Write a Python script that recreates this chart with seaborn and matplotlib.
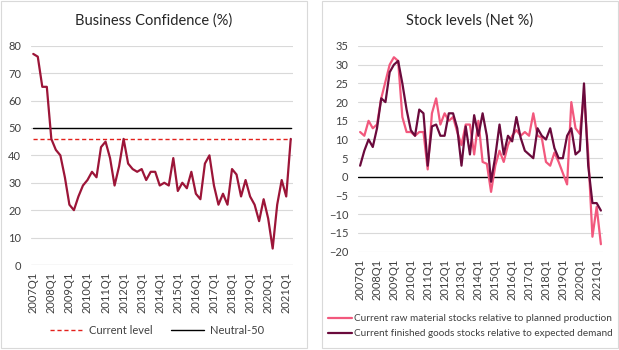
import matplotlib
matplotlib.use("Agg")
import matplotlib.pyplot as plt
import seaborn as sns
from matplotlib.patches import Rectangle

# -----------------------------
# DATA
# -----------------------------
quarters = [f"{y}Q{q}" for y in range(2007, 2022) for q in range(1, 5)][:58]  # 2007Q1 .. 2021Q2

business_confidence = [
    77, 76, 65, 65, 46, 42, 40, 32, 22, 20, 25, 29, 31, 34, 32, 43,
    45, 39, 29, 36, 46, 37, 35, 34, 35, 31, 34, 34, 29, 30, 29, 39,
    27, 30, 28, 34, 26, 24, 37, 40, 29, 22, 26, 22, 35, 33, 25, 31,
    25, 22, 16, 24, 17, 6, 22, 31, 25, 46,
]
current_level = [46] * len(quarters)
neutral_level = [50] * len(quarters)

raw_material = [
    12, 11, 15, 13, 14, 21, 25.5, 30, 32, 31, 16, 12, 12, 11, 12, 12,
    2, 17, 21, 14, 17, 15, 16, 12, 8.5, 14, 14, 6, 15, 4, 3.5, -4,
    3, 7, 4, 8.5, 11, 12.5, 11, 12, 11, 17, 11, 10.5, 4, 3, 6.5, 4,
    1, -2, 20, 13, 11.5, 22, 6, -16, -8, -18,
]
finished_goods = [
    3, 7, 10, 8, 13, 21, 20, 28, 30, 31, 25, 18, 12.5, 11, 18, 17,
    3, 13.5, 14, 11, 11, 17, 17, 13, 3, 13.5, 6, 16.5, 11, 17, 11, -1.3,
    5.5, 14, 6, 11, 9.5, 16, 10.5, 7, 6, 5, 13, 11, 10, 13, 7.7, 5,
    5, 11, 13, 6, 7, 25, 3, -7, -7, -9,
]

left_ticks = list(range(0, 81, 10))
right_ticks = list(range(-20, 36, 5))

# -----------------------------
# STYLE
# -----------------------------
sns.set_theme(style="white")
plt.rcParams['font.family'] = ['Lato', 'DejaVu Sans']
text_col = "#404040"
grid_col = "#D9D9D9"

W, H = 619, 350
fig = plt.figure(figsize=(W / 100, H / 100), dpi=100)


def box(x0, y0, x1, y1):
    """axes rectangle from pixel coordinates (top-left origin)"""
    return [x0 / W, 1 - y1 / H, (x1 - x0) / W, (y1 - y0) / H]


x = list(range(len(quarters)))

# chart area borders
for (x0, y0, x1, y1) in [(0.5, 0.5, 307, 348), (322, 1, 618, 348)]:
    fig.patches.append(Rectangle((x0 / W, 1 - y1 / H), (x1 - x0) / W, (y1 - y0) / H,
                                 transform=fig.transFigure, fill=False,
                                 edgecolor=grid_col, lw=0.8))

# -----------------------------
# LEFT: Business Confidence
# -----------------------------
ax1 = fig.add_axes(box(31, 45.7, 293, 265))
sns.lineplot(x=x, y=current_level, ax=ax1, color="#E3201B", lw=1.0,
             linestyle=(0, (3, 2)), label="Current level")
sns.lineplot(x=x, y=neutral_level, ax=ax1, color="black", lw=1.0, label="Neutral-50")
sns.lineplot(x=x, y=business_confidence, ax=ax1, color="#9C1538", lw=1.6)

ax1.set_ylim(0, 80)
ax1.set_yticks(left_ticks)
for t in left_ticks[1:]:
    ax1.axhline(t, color=grid_col, lw=0.8, zorder=0)
ax1.axhline(0, color=grid_col, lw=1.0, zorder=0)

# -----------------------------
# RIGHT: Stock levels
# -----------------------------
ax2 = fig.add_axes(box(358, 46, 603, 251.7))
sns.lineplot(x=x, y=raw_material, ax=ax2, color="#F2587D", lw=1.6,
             label="Current raw material stocks relative to planned production")
sns.lineplot(x=x, y=finished_goods, ax=ax2, color="#6A0A3C", lw=1.6,
             label="Current finished goods stocks relative to expected demand")

ax2.set_ylim(-20, 35)
ax2.set_yticks(right_ticks)
for t in right_ticks:
    if t != 0:
        ax2.axhline(t, color=grid_col, lw=0.8, zorder=0)
ax2.axhline(0, color="black", lw=1.0, zorder=1)

# common axis cosmetics
for ax in (ax1, ax2):
    ax.set_xlim(-0.5, len(quarters) - 0.5)
    ax.set_xticks(x[::4])
    ax.set_xticklabels(quarters[::4], rotation=90)
    ax.tick_params(axis='x', length=0, pad=5, labelsize=8, colors=text_col)
    ax.tick_params(axis='y', length=0, pad=7, labelsize=8, colors=text_col)
    for s in ax.spines.values():
        s.set_visible(False)
    ax.set_xlabel("")
    ax.set_ylabel("")
    ax.set_facecolor("none")

# titles (centred on each chart area)
fig.text(153.5 / W, 1 - 20.5 / H, "Business Confidence (%)", ha="center", va="center",
         fontsize=10.5, color="#262626")
fig.text(470 / W, 1 - 20.5 / H, "Stock levels (Net %)", ha="center", va="center",
         fontsize=10.5, color="#262626")

# legends
ax1.legend(loc="center", bbox_to_anchor=(157 / W, 1 - 330 / H), bbox_transform=fig.transFigure,
           ncol=2, frameon=False, fontsize=8, handlelength=3.0, columnspacing=1.6,
           handletextpad=0.5, labelcolor=text_col)
ax2.legend(loc="upper left", bbox_to_anchor=(328 / W, 1 - 314 / H), bbox_transform=fig.transFigure,
           ncol=1, frameon=False, fontsize=7.2, handlelength=2.4, handletextpad=0.2,
           labelspacing=0.6, borderaxespad=0, borderpad=0, labelcolor=text_col)

fig.savefig("out.png", dpi=100)
